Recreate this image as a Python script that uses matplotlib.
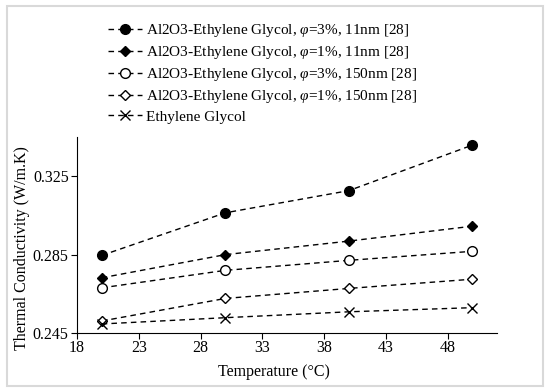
import matplotlib.pyplot as plt
from matplotlib.patches import Rectangle

plt.rcParams['font.family'] = ['Liberation Serif', 'DejaVu Serif']
plt.rcParams['mathtext.fontset'] = 'custom'
plt.rcParams['mathtext.it'] = 'Liberation Serif:italic'

temps = [20, 30, 40, 50]
al_3pct_11nm = [0.2846, 0.3063, 0.3176, 0.3408]
al_1pct_11nm = [0.2732, 0.2850, 0.2919, 0.2995]
al_3pct_150nm = [0.2681, 0.2770, 0.2821, 0.2867]
al_1pct_150nm = [0.2512, 0.2627, 0.2678, 0.2725]
eg = [0.2497, 0.2529, 0.2559, 0.2580]

labels = [
    r'Al2O3-Ethylene Glycol, $\varphi$=3%, 11nm [28]',
    r'Al2O3-Ethylene Glycol, $\varphi$=1%, 11nm [28]',
    r'Al2O3-Ethylene Glycol, $\varphi$=3%, 150nm [28]',
    r'Al2O3-Ethylene Glycol, $\varphi$=1%, 150nm [28]',
    'Ethylene Glycol',
]

fig = plt.figure(figsize=(5.5, 3.92), dpi=100)
ax = fig.add_axes([0.14, 0.15, 0.764, 0.501])

ls = (0, (4, 3))
ax.plot(temps, al_3pct_11nm, linestyle=ls, color='k', lw=1, marker='o', ms=7, mfc='k', label=labels[0])
ax.plot(temps, al_1pct_11nm, linestyle=ls, color='k', lw=1, marker='D', ms=5, mfc='k', label=labels[1])
ax.plot(temps, al_3pct_150nm, linestyle=ls, color='k', lw=1, marker='o', ms=7, mfc='white', label=labels[2])
ax.plot(temps, al_1pct_150nm, linestyle=ls, color='k', lw=1, marker='D', ms=5, mfc='white', label=labels[3])
ax.plot(temps, eg, linestyle=ls, color='k', lw=1, marker='x', ms=7, label=labels[4])

ax.set_xlim(18, 52)
ax.set_ylim(0.245, 0.345)
ax.set_xticks([18, 23, 28, 33, 38, 43, 48])
ax.set_yticks([0.245, 0.285, 0.325])
ax.set_yticklabels(['0.245', '0.285', '0.325'])
ax.spines['top'].set_visible(False)
ax.spines['right'].set_visible(False)
ax.tick_params(direction='out', length=4, labelsize=11.5)
ax.tick_params(axis='x', pad=1)
ax.tick_params(axis='y', pad=2)

fig.text(0.498, 0.052, 'Temperature (°C)', fontsize=11.5, ha='center', va='center')
fig.text(0.04, 0.368, 'Thermal Conductivity (W/m.K)', fontsize=11.5,
         ha='center', va='center', rotation=90)

fig.legend(loc='upper center', bbox_to_anchor=(0.478, 0.978), frameon=False,
           fontsize=11, handlelength=2.2, labelspacing=0.32, handletextpad=0.3)

fig.add_artist(Rectangle((0.012, 0.015), 0.976, 0.97, transform=fig.transFigure,
                         fill=False, edgecolor='#d9d9d9', lw=1.5))

fig.savefig('out.png', dpi=100)
